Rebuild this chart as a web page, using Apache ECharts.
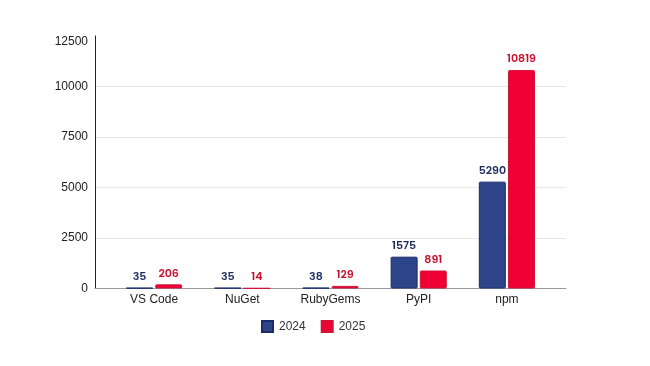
<!DOCTYPE html>
<html>
<head>
<meta charset="utf-8">
<script src="https://cdn.jsdelivr.net/npm/echarts@6/dist/echarts.min.js"></script>
<style>
    html, body { margin: 0; padding: 0; background: #fff; }
    #chart { width: 650px; height: 366px; }
</style>
</head>
<body>
<div id="chart"></div>
<script>
var categories = ["VS Code", "NuGet", "RubyGems", "PyPI", "npm"];
var values2024 = [35, 35, 38, 1575, 5290];
var values2025 = [206, 14, 129, 891, 10819];
var yTicks = [0, 2500, 5000, 7500, 10000, 12500];

var chart = echarts.init(document.getElementById("chart"));

var yMax = yTicks[yTicks.length - 1];
var yStep = yTicks[1] - yTicks[0];

function barSeries(name, data, fill, border, labelColor) {
    return {
        name: name,
        type: "bar",
        xAxisIndex: 1,
        yAxisIndex: 1,
        data: data,
        barWidth: 27,
        barGap: "8%",
        itemStyle: {
            color: fill,
            borderColor: border,
            borderWidth: 1,
            borderRadius: 1
        },
        label: {
            show: true,
            position: "top",
            distance: 5,
            color: labelColor,
            fontSize: 11,
            fontWeight: 600,
            fontFamily: "Poppins, 'Open Sans', sans-serif"
        }
    };
}

var option = {
    animation: false,
    grid: [
        { left: 95, right: 84, top: 36, bottom: 77.5 },
        { left: 110, right: 99, top: 36, bottom: 77.5 }
    ],
    legend: {
        data: ["2024", "2025"],
        left: 256,
        top: 315,
        itemWidth: 11,
        itemHeight: 11,
        itemGap: 15,
        icon: "rect",
        textStyle: {
            color: "#333",
            fontSize: 12,
            padding: [0, 0, 0, 1],
            fontFamily: "Liberation Sans, Arial, sans-serif"
        }
    },
    xAxis: [
        {
            gridIndex: 0,
            type: "value",
            min: 0,
            max: 1,
            axisLine: { show: true, lineStyle: { color: "#999", width: 1 } },
            axisTick: { show: false },
            axisLabel: { show: false },
            splitLine: { show: false }
        },
        {
            gridIndex: 1,
            type: "category",
            data: categories,
            axisLine: { show: false },
            axisTick: { show: false },
            axisLabel: {
                margin: 5,
                color: "#222",
                fontSize: 12,
                fontFamily: "Liberation Sans, Arial, sans-serif"
            }
        }
    ],
    yAxis: [
        {
            gridIndex: 0,
            type: "value",
            min: 0,
            max: yMax,
            interval: yStep,
            axisLine: { show: true, lineStyle: { color: "#222", width: 1 } },
            axisTick: { show: false },
            axisLabel: {
                margin: 7,
                color: "#222",
                fontSize: 12,
                fontFamily: "Liberation Sans, Arial, sans-serif",
                formatter: function (v) {
                    // top label sits a little below its tick
                    return v === yMax ? "{top|" + v + "}" : String(v);
                },
                rich: {
                    top: {
                        padding: [12, 0, 0, 0],
                        color: "#222",
                        fontSize: 12,
                        fontFamily: "Liberation Sans, Arial, sans-serif"
                    }
                }
            },
            splitLine: {
                show: true,
                showMinLine: false,
                showMaxLine: false,
                lineStyle: { color: "#e8e8e8", width: 1 }
            }
        },
        {
            gridIndex: 1,
            type: "value",
            min: 0,
            max: yMax,
            interval: yStep,
            show: false
        }
    ],
    series: [
        barSeries("2024", values2024, "#2e4488", "#1b2a6b", "#1f2b5e"),
        barSeries("2025", values2025, "#ef0035", "#d01538", "#c8102e")
    ]
};

chart.setOption(option);
</script>
</body>
</html>
